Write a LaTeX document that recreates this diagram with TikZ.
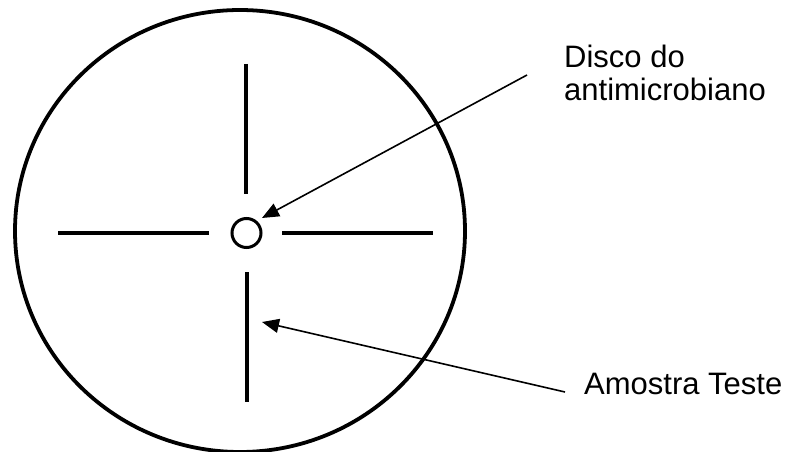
\documentclass[tikz,border=0pt]{standalone}
\usepackage{fontspec}
\setmainfont{Liberation Sans}
\usetikzlibrary{arrows.meta}
\begin{document}
\begin{tikzpicture}[x=1pt,y=-1pt,
  plate/.style={line width=3.8pt},
  streak/.style={line width=4.4pt},
  pointer/.style={line width=1.6pt,-{Triangle[length=17pt,width=14pt]}},
  lbl/.style={font=\fontsize{31}{35}\selectfont,inner sep=0pt,anchor=base west}]
\useasboundingbox (0,0) rectangle (793,452);
\draw[plate] (240,231) ellipse [x radius=225, y radius=221];
\node[draw,circle,line width=3pt,minimum size=29pt,inner sep=0pt] (disc) at (246.5,233) {};
\draw[streak] (246,64) -- (246,194);
\draw[streak] (247,272) -- (247,402);
\draw[streak] (58,233) -- (209,233);
\draw[streak] (282,233) -- (433,233);
\node[lbl] (l1) at (564,67) {Disco do};
\node[lbl] (l2) at (564,100) {antimicrobiano};
\node[lbl] (l3) at (584,394) {Amostra Teste};
\coordinate (s1) at (527,75);
\coordinate (t1) at (262,218);
\coordinate (s2) at (565,392);
\coordinate (t2) at (262,322);
\draw[pointer] (s1) -- (t1);
\draw[pointer] (s2) -- (t2);
\end{tikzpicture}
\end{document}
